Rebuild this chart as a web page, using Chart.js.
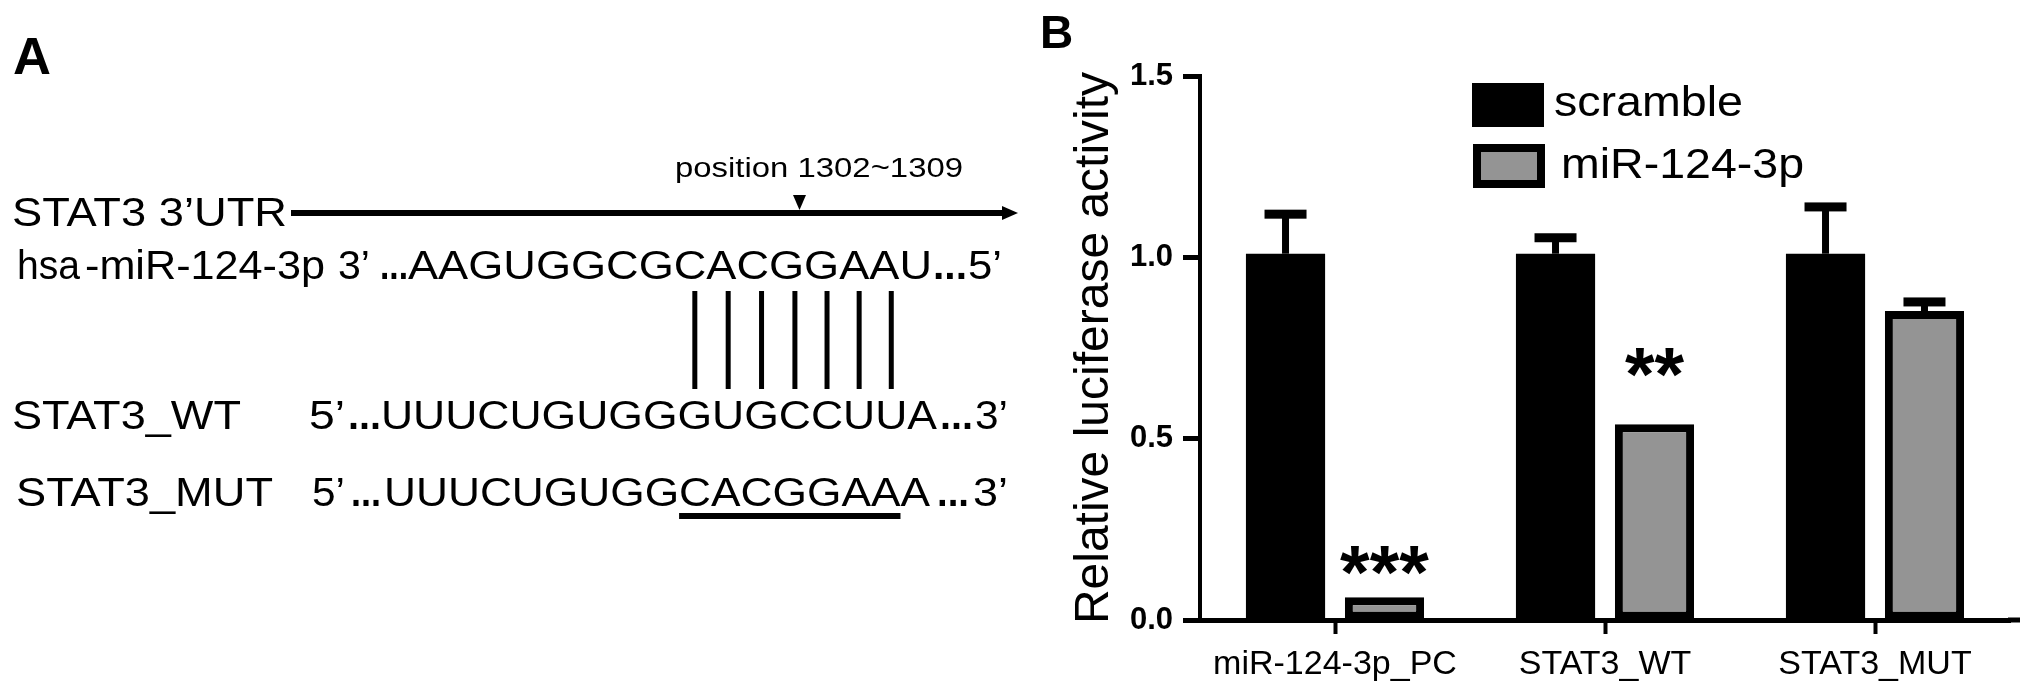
<!DOCTYPE html>
<html>
<head>
<meta charset="utf-8">
<script src="https://cdn.jsdelivr.net/npm/chart.js@4.4.1/dist/chart.umd.min.js"></script>
<style>
  html, body { margin: 0; padding: 0; background: #fff; }
  #wrap { position: relative; width: 2031px; height: 696px; overflow: hidden; }
  #panelA { position: absolute; left: 0; top: 0; }
  #panelB { position: absolute; left: 1020px; top: 0; }
</style>
</head>
<body>
<div id="wrap">
  <canvas id="panelA" width="1020" height="696"></canvas>
  <canvas id="panelB" width="1011" height="696"></canvas>
</div>
<script>
// panel B data
const groups = ['miR-124-3p_PC', 'STAT3_WT', 'STAT3_MUT'];
const scramble = [1.01, 1.01, 1.01];
const scrambleSD = [0.109, 0.044, 0.129];
const mir124 = [0.063, 0.54, 0.852];
const mir124SD = [0, 0, 0.025];
const stars = ['***', '**', ''];
const starLevel = [0.179, 0.725, null];
const yTicks = [0, 0.5, 1.0, 1.5];

// panel A sequences
const seqMiR = 'AAGUGGCGCACGGAAU';
const seqWT = 'UUUCUGUGGGUGCCUUA';
const seqMUT = 'UUUCUGUGGCACGGAAA';

const FONT = "'Liberation Sans', Arial, Helvetica, sans-serif";

// ---------- panel A : plain canvas drawing ----------
const a = document.getElementById('panelA').getContext('2d');
a.fillStyle = '#000';
a.strokeStyle = '#000';

// draw text squeezed/stretched to a given width, returns the x scale used
function fitText(txt, x, y, w, size, bold) {
  a.font = (bold ? 'bold ' : '') + size + 'px ' + FONT;
  const sx = w / a.measureText(txt).width;
  a.save();
  a.translate(x, y);
  a.scale(sx, 1);
  a.fillText(txt, 0, 0);
  a.restore();
  return sx;
}
function letterPos(txt, i, x, sx, size) {
  a.font = size + 'px ' + FONT;
  const left = x + a.measureText(txt.slice(0, i)).width * sx;
  const w = a.measureText(txt[i]).width * sx;
  return { left: left, mid: left + w / 2, right: left + w };
}

const fs = 40;
a.textBaseline = 'alphabetic';
fitText('A', 13, 74, 38, 52, true);

// 3'UTR line
fitText('position 1302~1309', 675, 177, 288, 27);
a.beginPath(); a.moveTo(793, 195); a.lineTo(806, 195); a.lineTo(799.5, 210); a.closePath(); a.fill();
fitText('STAT3 3\u2019UTR', 12, 226, 275, fs);
a.lineWidth = 6;
a.beginPath(); a.moveTo(291, 213); a.lineTo(1004, 213); a.stroke();
a.beginPath(); a.moveTo(1018, 213); a.lineTo(1002, 206); a.lineTo(1002, 220); a.closePath(); a.fill();

// miRNA row
const yMiR = 279;
fitText('hsa', 17, yMiR, 63, fs);
fitText('-miR-124-3p', 85, yMiR, 240, fs);
fitText('3\u2019', 338, yMiR, 32, fs);
fitText('...', 380, yMiR, 28, fs, true);
fitText(seqMiR, 408, yMiR, 524, fs);
fitText('...', 933, yMiR, 34, fs, true);
fitText('5\u2019', 968, yMiR, 34, fs);

// WT row
const yWT = 429;
fitText('STAT3_WT', 12, yWT, 229, fs);
fitText('5\u2019', 309, yWT, 36, fs);
fitText('...', 348, yWT, 33, fs, true);
const sxWT = fitText(seqWT, 381, yWT, 556, fs);
fitText('...', 940, yWT, 33, fs, true);
fitText('3\u2019', 975, yWT, 33, fs);

// base pairing lines (WT letters 9..15)
a.lineWidth = 5;
for (let i = 9; i <= 15; i++) {
  const p = letterPos(seqWT, i, 381, sxWT, fs);
  a.beginPath(); a.moveTo(p.mid, 291); a.lineTo(p.mid, 389); a.stroke();
}

// MUT row
const yMUT = 506;
fitText('STAT3_MUT', 16, yMUT, 257, fs);
fitText('5\u2019', 312, yMUT, 33, fs);
fitText('...', 351, yMUT, 30, fs, true);
const sxMUT = fitText(seqMUT, 384, yMUT, 546, fs);
fitText('...', 937, yMUT, 32, fs, true);
fitText('3\u2019', 973, yMUT, 35, fs);
const u0 = letterPos(seqMUT, 9, 384, sxMUT, fs);
const u1 = letterPos(seqMUT, 15, 384, sxMUT, fs);
a.lineWidth = 6;
a.beginPath(); a.moveTo(u0.left, 516); a.lineTo(u1.right, 516); a.stroke();

// ---------- panel B : Chart.js ----------
const extras = {
  id: 'extras',
  beforeDatasetsDraw(chart) {
    // x axis runs a little past the last category, as in the figure
    const { ctx, chartArea } = chart;
    ctx.save();
    ctx.fillStyle = '#000';
    ctx.fillRect(chartArea.right - 2, chartArea.bottom - 2.5, 12, 5);
    ctx.restore();
  },
  afterDatasetsDraw(chart) {
    const ctx = chart.ctx;
    const y = chart.scales.y;
    ctx.save();
    ctx.fillStyle = '#000';
    // panel letter
    ctx.font = 'bold 46px ' + FONT;
    ctx.textAlign = 'left';
    ctx.textBaseline = 'alphabetic';
    ctx.fillText('B', 20, 48);
    // error bars, upper side only
    chart.data.datasets.forEach((ds, di) => {
      chart.getDatasetMeta(di).data.forEach((bar, i) => {
        const sd = ds.sd[i];
        if (!sd) return;
        const top = y.getPixelForValue(ds.data[i] + sd);
        ctx.fillRect(bar.x - 3.5, top, 7, bar.y - top);
        ctx.fillRect(bar.x - 21, top - 4.5, 42, 9);
      });
    });
    // significance stars above the miR-124-3p bars
    const gray = chart.getDatasetMeta(1).data;
    ctx.font = 'bold 76px ' + FONT;
    ctx.textAlign = 'center';
    stars.forEach((s, i) => {
      if (!s) return;
      ctx.fillText(s, gray[i].x, y.getPixelForValue(starLevel[i]) + 0.56 * 76);
    });
    // legend
    const items = [
      { box: [452, 83], text: [534, 116, 189] },
      { box: [453, 144], text: [541, 178, 243] }
    ];
    chart.data.datasets.forEach((ds, di) => {
      const it = items[di];
      const bw = ds.borderWidth || 0;
      ctx.fillStyle = bw ? ds.borderColor : ds.backgroundColor;
      ctx.fillRect(it.box[0], it.box[1], 72, 44);
      if (bw) {
        ctx.fillStyle = ds.backgroundColor;
        ctx.fillRect(it.box[0] + bw, it.box[1] + bw, 72 - 2 * bw, 44 - 2 * bw);
      }
      ctx.fillStyle = '#000';
      ctx.font = '42px ' + FONT;
      ctx.textAlign = 'left';
      const sx = it.text[2] / ctx.measureText(ds.label).width;
      ctx.save();
      ctx.translate(it.text[0], it.text[1]);
      ctx.scale(sx, 1);
      ctx.fillText(ds.label, 0, 0);
      ctx.restore();
    });
    ctx.restore();
  }
};

new Chart(document.getElementById('panelB'), {
  type: 'bar',
  data: {
    labels: groups,
    datasets: [
      {
        label: 'scramble', data: scramble, sd: scrambleSD,
        backgroundColor: '#000', borderWidth: 0,
        barPercentage: 0.8, categoryPercentage: 0.733
      },
      {
        label: 'miR-124-3p', data: mir124, sd: mir124SD,
        backgroundColor: '#949494', borderColor: '#000', borderWidth: 8, borderSkipped: false,
        barPercentage: 0.8, categoryPercentage: 0.733
      }
    ]
  },
  options: {
    responsive: false,
    animation: false,
    devicePixelRatio: 1,
    layout: { padding: { left: 20, top: 76, right: 21, bottom: 0 } },
    plugins: { legend: { display: false }, tooltip: { enabled: false } },
    scales: {
      x: {
        offset: true,
        afterFit: s => { s.height = 76; },
        grid: { display: true, drawOnChartArea: false, offset: false, tickLength: 14, tickColor: '#000', tickWidth: 4 },
        border: { display: true, color: '#000', width: 5 },
        ticks: { color: '#000', padding: 10, font: { family: FONT, size: 34 } }
      },
      y: {
        min: 0, max: 1.5,
        afterFit: s => { s.width = 160; },
        afterBuildTicks: s => { s.ticks = yTicks.map(v => ({ value: v })); },
        grid: { display: true, drawOnChartArea: false, tickLength: 17, tickColor: '#000', tickWidth: 5 },
        border: { display: true, color: '#000', width: 4 },
        ticks: {
          color: '#000', padding: 10,
          font: { family: FONT, size: 31, weight: 'bold' },
          callback: v => Number(v).toFixed(1)
        },
        title: {
          display: true, text: 'Relative luciferase activity', color: '#000',
          font: { family: FONT, size: 48 }, padding: { top: 26, bottom: 0 }
        }
      }
    }
  },
  plugins: [extras]
});
</script>
</body>
</html>
